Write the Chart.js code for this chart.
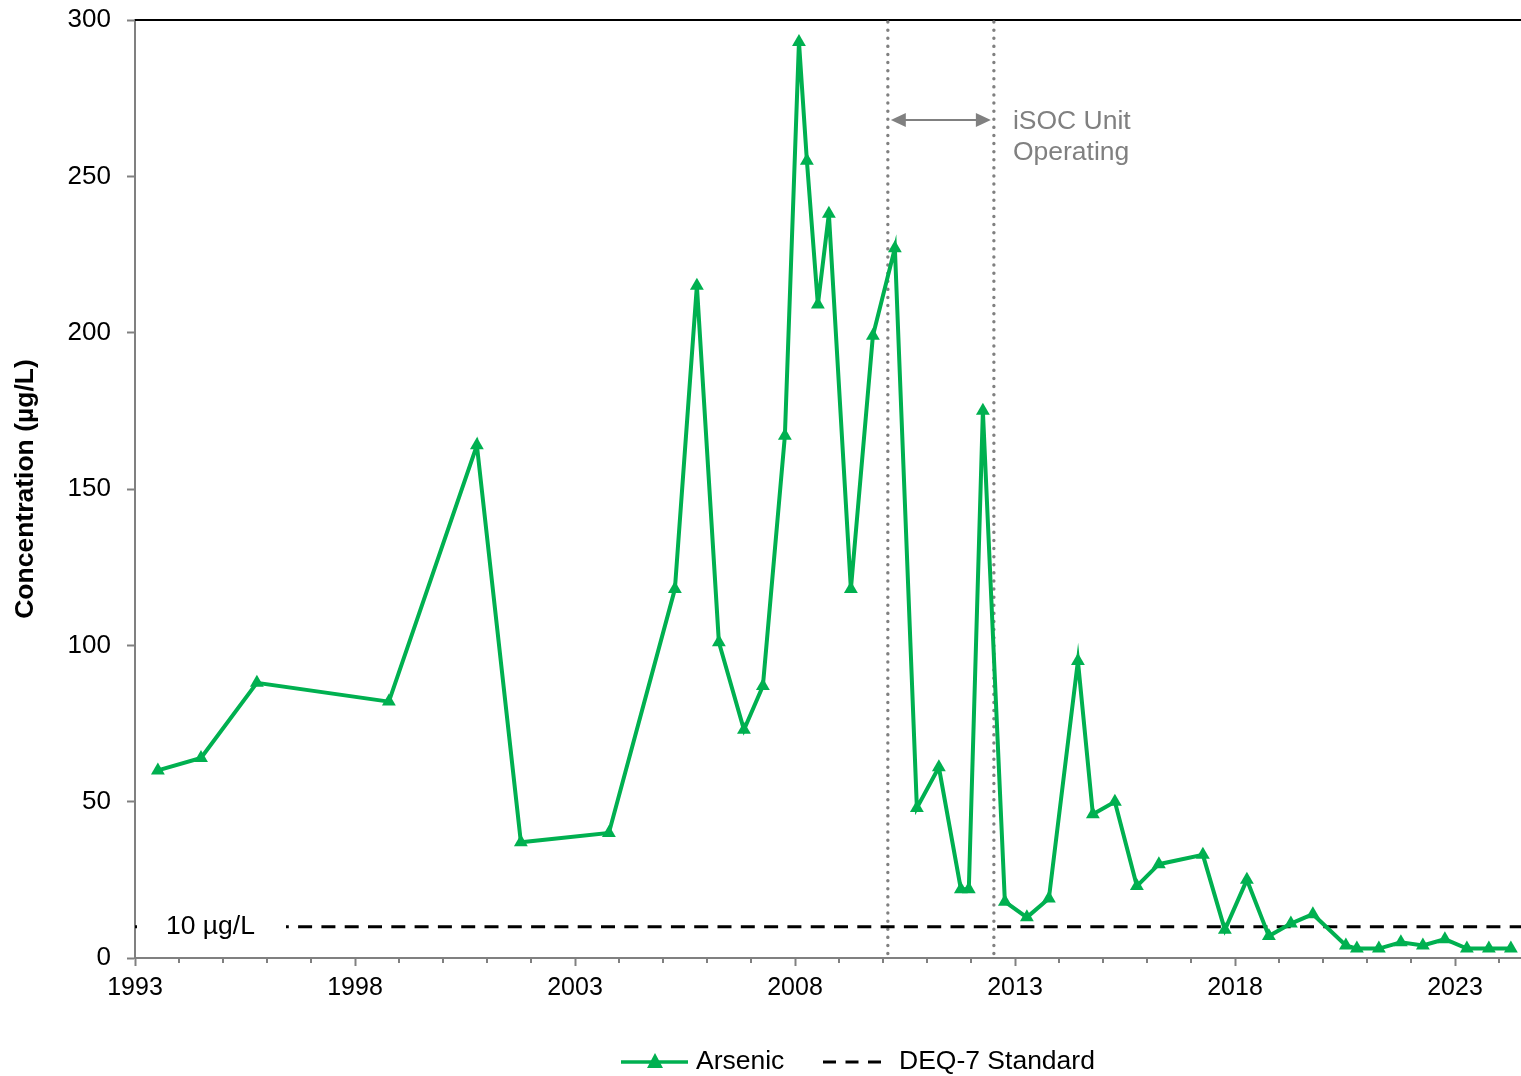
<!DOCTYPE html>
<html>
<head>
<meta charset="utf-8">
<script src="https://cdn.jsdelivr.net/npm/chart.js@4.4.1/dist/chart.umd.min.js"></script>
<style>
  html, body { margin: 0; padding: 0; background: #fff; }
  #wrap { width: 1521px; height: 1076px; }
</style>
</head>
<body>
<div id="wrap"><canvas id="grafico" width="1521" height="1076"></canvas></div>
<script>
// Datos (anio decimal, concentracion en ug/L)
const fechas = [1993.52, 1994.5, 1995.77, 1998.77, 2000.77, 2001.77, 2003.77, 2005.27, 2005.77, 2006.27,
  2006.84, 2007.27, 2007.77, 2008.09, 2008.27, 2008.52, 2008.77, 2009.27, 2009.77, 2010.27,
  2010.77, 2011.27, 2011.77, 2011.95, 2012.27, 2012.77, 2013.27, 2013.77, 2014.43, 2014.77,
  2015.27, 2015.77, 2016.27, 2017.27, 2017.77, 2018.27, 2018.77, 2019.27, 2019.77, 2020.52,
  2020.77, 2021.27, 2021.77, 2022.27, 2022.77, 2023.27, 2023.77, 2024.27];
const arsenico = [60, 64, 88, 82, 164, 37, 40, 118, 215, 101,
  73, 87, 167, 293, 255, 209, 238, 118, 199, 227,
  48, 61, 22, 22, 175, 18, 13, 19, 95, 46,
  50, 23, 30, 33, 9, 25, 7, 11, 14, 4,
  3, 3, 5, 4, 6, 3, 3, 3];
const estandar = 10;                 // DEQ-7 Standard
const isocInicio = 2010.11;          // iSOC Unit Operating
const isocFin = 2012.52;
const ticksX = [1993, 1998, 2003, 2008, 2013, 2018, 2023];
const ticksY = [0, 50, 100, 150, 200, 250, 300];

const VERDE = '#00B050';
const GRIS = '#808080';
const FUENTE = "'Liberation Sans', Arial, sans-serif";

// Dibujos extra: marco superior, ticks menores, lineas iSOC, etiqueta y leyenda
const extras = {
  id: 'extras',
  beforeDatasetsDraw(chart) {
    const { ctx, chartArea: a, scales: { x, y } } = chart;
    ctx.save();
    // linea superior negra
    ctx.strokeStyle = '#000';
    ctx.lineWidth = 2;
    ctx.beginPath();
    ctx.moveTo(a.left, a.top);
    ctx.lineTo(a.right, a.top);
    ctx.stroke();
    // ticks menores cada anio
    ctx.strokeStyle = GRIS;
    ctx.lineWidth = 2;
    for (let yr = 1994; yr <= 2024; yr++) {
      if (ticksX.includes(yr)) continue;
      const px = Math.round(x.getPixelForValue(yr));
      ctx.beginPath();
      ctx.moveTo(px, a.bottom);
      ctx.lineTo(px, a.bottom + 5);
      ctx.stroke();
    }
    // lineas punteadas del periodo iSOC
    ctx.strokeStyle = GRIS;
    ctx.lineWidth = 3.4;
    ctx.lineCap = 'round';
    ctx.setLineDash([0.1, 8]);
    [isocInicio, isocFin].forEach(v => {
      const px = x.getPixelForValue(v);
      ctx.beginPath();
      ctx.moveTo(px, a.top + 2);
      ctx.lineTo(px, a.bottom);
      ctx.stroke();
    });
    ctx.restore();
  },
  afterDatasetsDraw(chart) {
    const { ctx, chartArea: a, scales: { x, y } } = chart;
    ctx.save();
    // flecha doble
    const x1 = x.getPixelForValue(isocInicio) + 3;
    const x2 = x.getPixelForValue(isocFin) - 3;
    const ya = y.getPixelForValue(268);
    ctx.strokeStyle = GRIS;
    ctx.fillStyle = GRIS;
    ctx.lineWidth = 2;
    ctx.beginPath();
    ctx.moveTo(x1 + 12, ya);
    ctx.lineTo(x2 - 12, ya);
    ctx.stroke();
    ctx.beginPath();
    ctx.moveTo(x1, ya); ctx.lineTo(x1 + 15, ya - 7); ctx.lineTo(x1 + 15, ya + 7); ctx.closePath();
    ctx.fill();
    ctx.beginPath();
    ctx.moveTo(x2, ya); ctx.lineTo(x2 - 15, ya - 7); ctx.lineTo(x2 - 15, ya + 7); ctx.closePath();
    ctx.fill();
    // texto iSOC
    ctx.font = '26.5px ' + FUENTE;
    ctx.textAlign = 'left';
    ctx.textBaseline = 'middle';
    ctx.fillText('iSOC Unit', x2 + 22, ya + 2);
    ctx.fillText('Operating', x2 + 22, ya + 33);
    // etiqueta del estandar
    const ye = y.getPixelForValue(estandar);
    ctx.fillStyle = '#fff';
    ctx.fillRect(a.left + 2, ye - 16, 149, 32);
    ctx.fillStyle = '#000';
    ctx.fillText('10 \u00b5g/L', a.left + 31, ye);
    ctx.restore();
  },
  afterDraw(chart) {
    const { ctx } = chart;
    ctx.save();
    const yl = 1062;
    // Arsenic
    ctx.strokeStyle = VERDE;
    ctx.lineWidth = 3.5;
    ctx.beginPath();
    ctx.moveTo(621, yl); ctx.lineTo(688, yl);
    ctx.stroke();
    ctx.fillStyle = VERDE;
    ctx.beginPath();
    ctx.moveTo(655, yl - 9); ctx.lineTo(663, yl + 6); ctx.lineTo(647, yl + 6); ctx.closePath();
    ctx.fill();
    ctx.fillStyle = '#000';
    ctx.font = '26.5px ' + FUENTE;
    ctx.textBaseline = 'middle';
    ctx.fillText('Arsenic', 696, yl);
    // DEQ-7
    ctx.strokeStyle = '#000';
    ctx.lineWidth = 3;
    ctx.setLineDash([13, 9.5]);
    ctx.beginPath();
    ctx.moveTo(823, yl); ctx.lineTo(881, yl);
    ctx.stroke();
    ctx.setLineDash([]);
    ctx.fillText('DEQ-7 Standard', 899, yl);
    ctx.restore();
  }
};

new Chart(document.getElementById('grafico'), {
  type: 'line',
  data: {
    datasets: [{
      label: 'Arsenic',
      data: fechas.map((f, i) => ({ x: f, y: arsenico[i] })),
      borderColor: VERDE,
      backgroundColor: VERDE,
      borderWidth: 4,
      pointStyle: 'triangle',
      pointRadius: 8,
      pointBorderWidth: 0,
      tension: 0,
      order: 1
    }, {
      label: 'DEQ-7 Standard',
      data: [{ x: 1993, y: estandar }, { x: 2024.5, y: estandar }],
      borderColor: '#000',
      borderWidth: 3,
      borderDash: [14, 9.3],
      pointRadius: 0,
      order: 2
    }]
  },
  options: {
    responsive: false,
    animation: false,
    layout: { autoPadding: false, padding: { top: 20, right: 0, left: 0, bottom: 0 } },
    plugins: { legend: { display: false }, tooltip: { enabled: false } },
    scales: {
      x: {
        type: 'linear',
        min: 1993,
        max: 2024.5,
        afterBuildTicks: s => { s.ticks = ticksX.map(v => ({ value: v })); },
        afterFit: s => { s.height = 118; s.paddingLeft = 0; s.paddingRight = 0; },
        ticks: {
          color: '#000',
          font: { family: FUENTE, size: 25 },
          padding: 7,
          maxRotation: 0,
          callback: v => String(v)
        },
        grid: { drawOnChartArea: false, tickLength: 8, tickColor: GRIS, tickWidth: 2 },
        border: { color: GRIS, width: 2 }
      },
      y: {
        min: 0,
        max: 300,
        afterBuildTicks: s => { s.ticks = ticksY.map(v => ({ value: v })); },
        afterFit: s => { s.width = 135; s.paddingTop = 0; s.paddingBottom = 0; },
        ticks: {
          color: '#000',
          font: { family: FUENTE, size: 26 },
          padding: 16
        },
        grid: { drawOnChartArea: false, tickLength: 8, tickColor: GRIS, tickWidth: 2 },
        border: { color: GRIS, width: 2 },
        title: {
          display: true,
          text: 'Concentration (\u00b5g/L)',
          color: '#000',
          font: { family: FUENTE, size: 26.5, weight: 'bold' },
          padding: { top: 10, bottom: 0 }
        }
      }
    }
  },
  plugins: [extras]
});
</script>
</body>
</html>
